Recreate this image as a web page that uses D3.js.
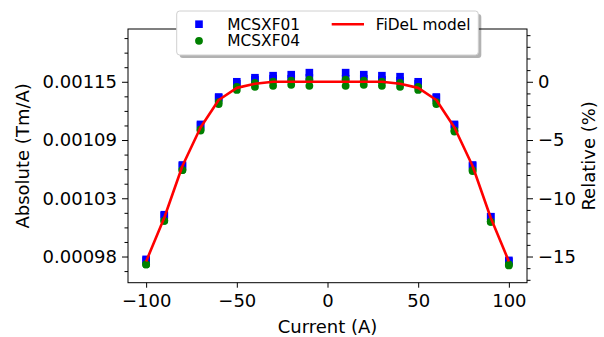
<!DOCTYPE html>
<html>
<head>
<meta charset="utf-8">
<script src="https://cdn.jsdelivr.net/npm/d3@7"></script>
<style>
  html, body { margin: 0; padding: 0; background: #fff; }
  svg { display: block; }
  text { font-family: "DejaVu Sans", sans-serif; fill: #000; }
</style>
</head>
<body>
<svg id="chart" width="604" height="337"></svg>
<script>
// ---- data ----
const currents = [-100, -90, -80, -70, -60, -50, -40, -30, -20, -10, 10, 20, 30, 40, 50, 60, 70, 80, 90, 100];
const mcsxf01Up   = [0.000973, 0.001017, 0.001066, 0.001106, 0.001133, 0.001148, 0.001152, 0.001154, 0.001155, 0.001157, 0.001157, 0.001155, 0.001154, 0.001153, 0.001148, 0.001133, 0.001106, 0.001066, 0.001015, 0.000972];
const mcsxf01Down = [0.000972, 0.001016, 0.001065, 0.001105, 0.001132, 0.001146, 0.001150, 0.001151, 0.001151, 0.001152, 0.001151, 0.001151, 0.001150, 0.001149, 0.001146, 0.001132, 0.001105, 0.001065, 0.001015, 0.000971];
const mcsxf04Up   = [0.000968, 0.001011, 0.001061, 0.001101, 0.001128, 0.001143, 0.001147, 0.001148, 0.001149, 0.001150, 0.001150, 0.001149, 0.001148, 0.001147, 0.001143, 0.001128, 0.001100, 0.001061, 0.001010, 0.000968];
const mcsxf04Down = [0.000968, 0.001011, 0.001061, 0.001100, 0.001126, 0.001140, 0.001143, 0.001144, 0.001145, 0.001144, 0.001144, 0.001145, 0.001144, 0.001143, 0.001140, 0.001126, 0.001099, 0.001060, 0.001010, 0.000967];
const modelCurrents = [-100, -90, -80, -70, -60, -50, -40, -30, -20, -10, 0, 10, 20, 30, 40, 50, 60, 70, 80, 90, 100];
const modelValues   = [0.000971, 0.001014, 0.001065, 0.001103, 0.001130, 0.001142, 0.001146, 0.001148, 0.001148, 0.001148, 0.001148, 0.001148, 0.001148, 0.001148, 0.001146, 0.001142, 0.001130, 0.001103, 0.001065, 0.001014, 0.000971];
const refValue = 0.001148;           // FiDeL plateau used as 0 % reference
const xTicks = [-100, -50, 0, 50, 100];
const relMajorTicks = [-15, -10, -5, 0];
const legendLabels = ["MCSXF01", "MCSXF04", "FiDeL model"];

// ---- layout ----
const svg = d3.select("#chart");
const L = 128, R = 527, T = 29, B = 282.7;
const FS = 18;

const x = d3.scaleLinear().domain([-110, 110]).range([L, R]);
const y = d3.scaleLinear().domain([0.00095, 0.0012]).range([B, T]);
const yRel = d3.scaleLinear().domain(y.domain().map(v => (v / refValue - 1) * 100)).range([B, T]);

const absAt = p => refValue * (1 + p / 100);

// minor tick values
const leftMinor = d3.range(-20, 6.25, 1.25).filter(p => p % 5 !== 0).map(absAt).filter(v => v >= y.domain()[0] && v <= y.domain()[1]);
const rightMinor = d3.range(-20, 6, 1).filter(p => p % 5 !== 0).filter(p => p >= yRel.domain()[0] && p <= yRel.domain()[1]);

function styleAxis(g) {
  g.select(".domain").remove();
  g.selectAll(".tick line").attr("stroke", "#000").attr("stroke-width", 1);
  g.selectAll(".tick text").attr("font-size", FS).attr("font-family", "DejaVu Sans");
}

// x axis
svg.append("g").attr("transform", `translate(0,${B})`)
  .call(d3.axisBottom(x).tickValues(xTicks).tickFormat(d3.format("d")).tickSize(5).tickPadding(7).tickSizeOuter(0))
  .call(styleAxis);

// left axis
svg.append("g").attr("transform", `translate(${L},0)`)
  .call(d3.axisLeft(y).tickValues(relMajorTicks.map(absAt)).tickFormat(d3.format(".5f")).tickSize(6).tickPadding(5).tickSizeOuter(0))
  .call(styleAxis);
svg.append("g").attr("transform", `translate(${L},0)`)
  .call(d3.axisLeft(y).tickValues(leftMinor).tickFormat("").tickSize(3.5).tickSizeOuter(0))
  .call(styleAxis);

// right axis
svg.append("g").attr("transform", `translate(${R},0)`)
  .call(d3.axisRight(yRel).tickValues(relMajorTicks).tickFormat(d3.format("d")).tickSize(6).tickPadding(5).tickSizeOuter(0))
  .call(styleAxis);
svg.append("g").attr("transform", `translate(${R},0)`)
  .call(d3.axisRight(yRel).tickValues(rightMinor).tickFormat("").tickSize(3.5).tickSizeOuter(0))
  .call(styleAxis);

// frame
svg.append("rect").attr("x", L).attr("y", T).attr("width", R - L).attr("height", B - T)
  .attr("fill", "none").attr("stroke", "#000").attr("stroke-width", 1);

// axis labels
svg.append("text").attr("transform", `translate(28.5,${(T + B) / 2}) rotate(-90)`)
  .attr("text-anchor", "middle").attr("font-size", FS).text("Absolute (Tm/A)");
svg.append("text").attr("transform", `translate(595,${(T + B) / 2}) rotate(-90)`)
  .attr("text-anchor", "middle").attr("font-size", FS).text("Relative (%)");
svg.append("text").attr("x", (L + R) / 2).attr("y", 333)
  .attr("text-anchor", "middle").attr("font-size", FS).text("Current (A)");

// data
const sq = 7.6, cr = 3.9;
const plot = svg.append("g");
[mcsxf01Up, mcsxf01Down].forEach(arr => {
  plot.selectAll(null).data(currents.map((c, i) => [c, arr[i]])).enter().append("rect")
    .attr("x", d => x(d[0]) - sq / 2).attr("y", d => y(d[1]) - sq / 2)
    .attr("width", sq).attr("height", sq).attr("fill", "#0000ff");
});
[mcsxf04Up, mcsxf04Down].forEach(arr => {
  plot.selectAll(null).data(currents.map((c, i) => [c, arr[i]])).enter().append("circle")
    .attr("cx", d => x(d[0])).attr("cy", d => y(d[1])).attr("r", cr).attr("fill", "#008000");
});
const line = d3.line().x(d => x(d[0])).y(d => y(d[1]));
plot.append("path").datum(modelCurrents.map((c, i) => [c, modelValues[i]]))
  .attr("d", line).attr("fill", "none").attr("stroke", "#ff0000").attr("stroke-width", 2.6)
  .attr("stroke-linejoin", "round");

// legend
const lg = svg.append("g");
const lx = 176.7, ly = 11, lw = 301.6, lh = 44;
lg.append("rect").attr("x", lx + 3).attr("y", ly + 3).attr("width", lw).attr("height", lh)
  .attr("rx", 3).attr("fill", "#000").attr("opacity", 0.3);
lg.append("rect").attr("x", lx).attr("y", ly).attr("width", lw).attr("height", lh)
  .attr("rx", 3).attr("fill", "#fff").attr("stroke", "#d0d0d0").attr("stroke-width", 1);
const LFS = 15.4;
const row1 = 24.2, row2 = 40.8;
lg.append("rect").attr("x", 199 - sq / 2).attr("y", row1 - sq / 2).attr("width", sq).attr("height", sq).attr("fill", "#0000ff");
lg.append("circle").attr("cx", 199).attr("cy", row2).attr("r", cr).attr("fill", "#008000");
lg.append("line").attr("x1", 331.7).attr("x2", 364).attr("y1", row1).attr("y2", row1)
  .attr("stroke", "#ff0000").attr("stroke-width", 2.6);
lg.append("text").attr("x", 227.3).attr("y", row1).attr("dy", "0.36em").attr("font-size", LFS).text(legendLabels[0]);
lg.append("text").attr("x", 227.3).attr("y", row2).attr("dy", "0.36em").attr("font-size", LFS).text(legendLabels[1]);
lg.append("text").attr("x", 375.7).attr("y", row1).attr("dy", "0.36em").attr("font-size", LFS).text(legendLabels[2]);
</script>
</body>
</html>
